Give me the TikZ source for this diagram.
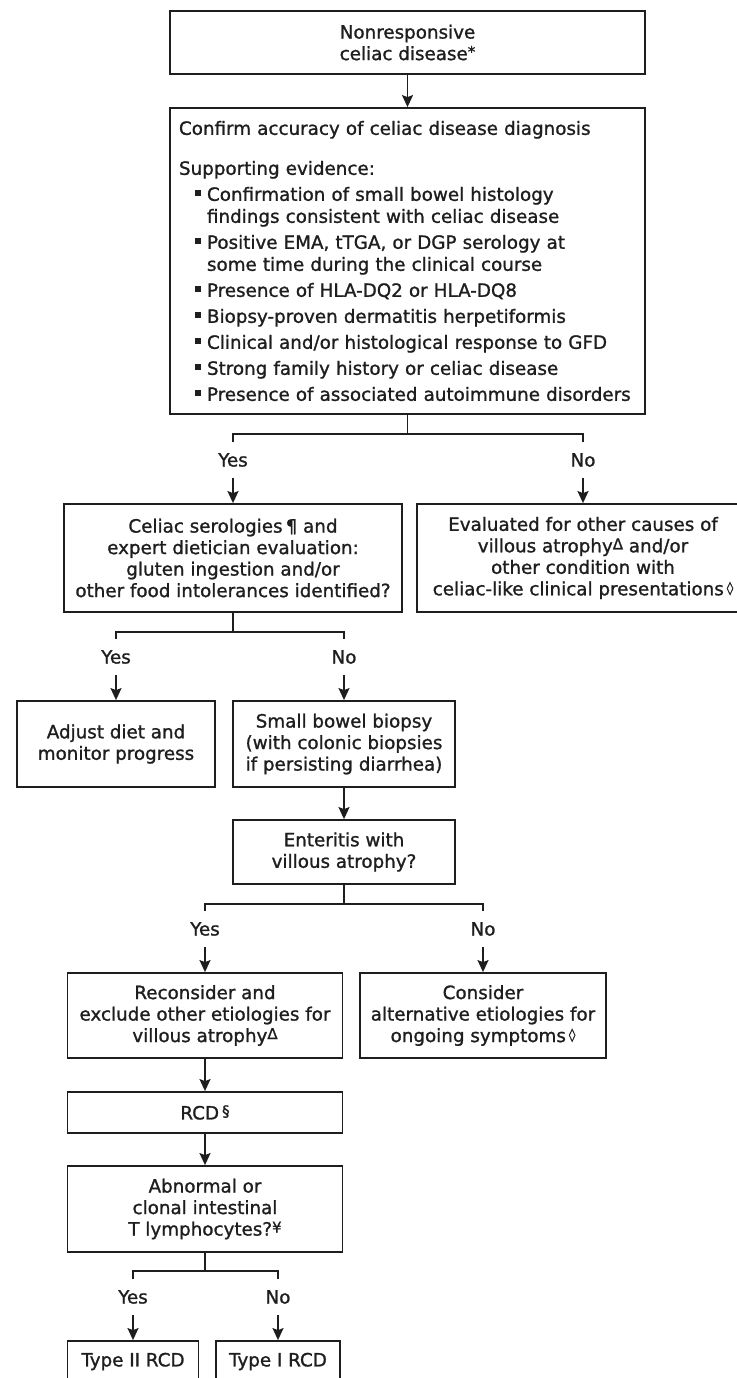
\documentclass[tikz,border=0pt]{standalone}
\usepackage{fontspec}
\setmainfont{DejaVu Sans}[FakeBold=1.2]
\usetikzlibrary{arrows.meta}

\definecolor{ink}{HTML}{1E1E1E}

% small raised footnote marks
\newcommand\supmark[1]{\raisebox{3pt}{\fontsize{15}{15}\selectfont#1}}
% one item of supporting evidence
\newcommand\evid[1]{\par\vspace{4pt}\hangindent=28pt\hangafter=1\noindent
  \makebox[28pt][l]{\hspace{16pt}\rule[5pt]{6pt}{6pt}}#1}

\begin{document}
\begin{tikzpicture}[x=1pt,y=1pt,
    box/.style={draw=ink, line width=1.8pt, inner sep=0pt, align=center,
      text=ink, font=\fontsize{18.3}{21.5}\selectfont},
    answer/.style={inner sep=0pt, minimum height=36pt, text height=13pt,
      text depth=0pt, text=ink, font=\fontsize{18.3}{21.5}\selectfont},
    link/.style={draw=ink, line width=1.8pt},
    arrow/.style={link, -{Stealth[length=12pt,width=11pt,inset=2pt]}}]

  % Fix the size of the picture
  \useasboundingbox (0,0) rectangle (736,-1378);

  % Top of the work-up
  \node[box, minimum width=475pt, minimum height=63pt] (start) at (407.5,-42.5)
    {Nonresponsive\\celiac disease\supmark{*}};
  \node[box, minimum width=475pt, minimum height=306pt, text width=475pt,
    inner xsep=0pt, align=left, font=\fontsize{18.3}{22}\selectfont] (confirm) at (407.5,-261)
    {\parindent=0pt\leftskip=9pt\rightskip=0pt plus 1fil
     Confirm accuracy of celiac disease diagnosis\par
     \vspace{18pt}Supporting evidence:
     \evid{Confirmation of small bowel histology\newline findings consistent with celiac disease}
     \evid{Positive EMA, tTGA, or DGP serology at\newline some time during the clinical course}
     \evid{Presence of HLA-DQ2 or HLA-DQ8}
     \evid{Biopsy-proven dermatitis herpetiformis}
     \evid{Clinical and/or histological response to GFD}
     \evid{Strong family history or celiac disease}
     \evid{Presence of associated autoimmune disorders}\par};
  \draw[arrow] (start) -- (confirm);

  % Diagnosis confirmed or not
  \node[answer] (yesA) at (233,-460) {Yes};
  \node[answer] (noA) at (583,-460) {No};
  \draw[link] (confirm.south) -- ++(0,-19) -| (yesA.north);
  \draw[link] (confirm.south) -- ++(0,-19) -| (noA.north);

  \node[box, minimum width=338pt, minimum height=108pt] (sero) at (233,-558)
    {Celiac serologies\,¶ and\\expert dietician evaluation:\\gluten ingestion and/or\\other food intolerances identified?};
  \node[box, minimum width=332pt, minimum height=108pt] (other) at (583,-558)
    {Evaluated for other causes of\\villous atrophy\supmark{Δ} and/or\\other condition with\\celiac-like clinical presentations\,\supmark{\fontsize{13}{13}\selectfont◊}};
  \draw[arrow] (yesA.south) -- (sero.north);
  \draw[arrow] (noA.south) -- (other.north);

  % Gluten or other intolerances found or not
  \node[answer] (yesB) at (116,-657) {Yes};
  \node[answer] (noB) at (344,-657) {No};
  \draw[link] (sero.south) -- ++(0,-19) -| (yesB.north);
  \draw[link] (sero.south) -- ++(0,-19) -| (noB.north);

  \node[box, minimum width=198pt, minimum height=86pt] (adjust) at (116,-744)
    {Adjust diet and\\monitor progress};
  \node[box, minimum width=222pt, minimum height=86pt] (biopsy) at (344,-744)
    {Small bowel biopsy\\(with colonic biopsies\\if persisting diarrhea)};
  \draw[arrow] (yesB.south) -- (adjust.north);
  \draw[arrow] (noB.south) -- (biopsy.north);

  \node[box, minimum width=222pt, minimum height=64pt] (enter) at (344,-852)
    {Enteritis with\\villous atrophy?};
  \draw[arrow] (biopsy) -- (enter);

  % Villous atrophy or not
  \node[answer] (yesC) at (205,-929) {Yes};
  \node[answer] (noC) at (483,-929) {No};
  \draw[link] (enter.south) -- ++(0,-19) -| (yesC.north);
  \draw[link] (enter.south) -- ++(0,-19) -| (noC.north);

  \node[box, minimum width=275pt, minimum height=85pt] (recon) at (205,-1015.5)
    {Reconsider and\\exclude other etiologies for\\villous atrophy\supmark{Δ}};
  \node[box, minimum width=246pt, minimum height=85pt] (alt) at (483,-1015.5)
    {Consider\\alternative etiologies for\\ongoing symptoms\,\supmark{\fontsize{13}{13}\selectfont◊}};
  \draw[arrow] (yesC.south) -- (recon.north);
  \draw[arrow] (noC.south) -- (alt.north);

  % Refractory disease
  \node[box, minimum width=275pt, minimum height=41pt] (rcd) at (205,-1112.5)
    {RCD\,\supmark{§}};
  \node[box, minimum width=275pt, minimum height=86pt] (clonal) at (205,-1209)
    {Abnormal or\\clonal intestinal\\T lymphocytes?\supmark{¥}};
  \draw[arrow] (recon) -- (rcd);
  \draw[arrow] (rcd) -- (clonal);

  % Type of RCD
  \node[answer] (yesD) at (133,-1297) {Yes};
  \node[answer] (noD) at (278,-1297) {No};
  \draw[link] (clonal.south) -- ++(0,-18) -| (yesD.north);
  \draw[link] (clonal.south) -- ++(0,-18) -| (noD.north);

  \node[box, minimum width=131pt, minimum height=41pt] (typeII) at (133,-1361.5)
    {Type II RCD};
  \node[box, minimum width=124pt, minimum height=41pt] (typeI) at (278,-1361.5)
    {Type I RCD};
  \draw[arrow] (yesD.south) -- (typeII.north);
  \draw[arrow] (noD.south) -- (typeI.north);

\end{tikzpicture}
\end{document}
